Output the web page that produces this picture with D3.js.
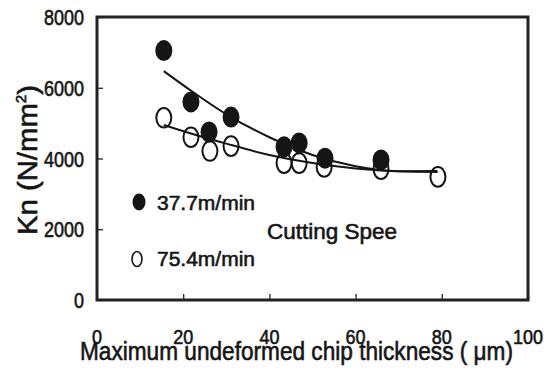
<!DOCTYPE html>
<html><head><meta charset="utf-8">
<script src="https://cdn.jsdelivr.net/npm/d3@7"></script>
<style>body{margin:0;background:#fff}svg{display:block}</style></head><body>
<svg id="c" width="550" height="370"></svg>
<script>
const xTicks=[0,20,40,60,80,100];
const yTicks=[0,2000,4000,6000,8000];
const thickness1=[15.5,21.8,26,31.1,43.4,46.9,52.9,65.9];
const kn1=[7050,5600,4750,5170,4330,4440,4010,3960];
const thickness2=[15.5,21.8,26.2,31.1,43.4,46.9,52.7,65.9,79.1];
const kn2=[5150,4600,4210,4350,3870,3870,3760,3700,3480];
const fitX=[15.5,22,30,40,50,60,70,79];
const fit1=[6470,5900,5250,4600,4100,3780,3640,3650];
const fit2=[4950,4700,4420,4100,3870,3720,3640,3620];
const legendLabels=["37.7m/min","75.4m/min"];
const legendTitle="Cutting Spee";
const xTitle="Maximum undeformed chip thickness ( \u03bcm)";

const svg=d3.select("#c");
const FONT="'Liberation Sans Narrow','Liberation Sans',Arial,sans-serif";
const ink="#151515";
const x=d3.scaleLinear().domain([0,100]).range([97,528]);
const y=d3.scaleLinear().domain([0,8000]).range([300,17]);

function txt(s,px,py,size,len,anchor){
  const t=svg.append("text").attr("x",px).attr("y",py).attr("font-family",FONT)
    .attr("font-size",size).attr("fill",ink).attr("stroke",ink).attr("stroke-width",0.6)
    .attr("text-anchor",anchor||"start").text(s);
  if(len){t.attr("textLength",len).attr("lengthAdjust","spacingAndGlyphs");}
  return t;
}

// axes (inside ticks)
const gx=svg.append("g").attr("transform","translate(0,300)")
  .call(d3.axisTop(x).tickValues(xTicks).tickSize(6).tickFormat(""));
const gy=svg.append("g").attr("transform","translate(97,0)")
  .call(d3.axisRight(y).tickValues(yTicks).tickSize(6).tickFormat(""));
[gx,gy].forEach(g=>{g.select(".domain").remove();g.selectAll("line").attr("stroke",ink).attr("stroke-width",1.2);});

// frame
svg.append("rect").attr("x",x(0)).attr("y",y(8000)).attr("width",x(100)-x(0)).attr("height",y(0)-y(8000))
  .attr("fill","none").attr("stroke","#222").attr("stroke-width",3);

// tick labels
yTicks.forEach(v=>{
  const s=String(v);
  txt(s,84,y(v)+8,22,s.length*10,"end");
});
xTicks.forEach(v=>{
  const s=String(v);
  txt(s,x(v),y(0)+44,20,s.length*10,"middle");
});

// axis titles
txt(xTitle,80,360,26,433,"start");
svg.append("text").attr("transform","translate(37,160) rotate(-90)").attr("text-anchor","middle")
  .attr("font-family",FONT).attr("font-size",27).attr("fill",ink).attr("stroke",ink).attr("stroke-width",0.6)
  .attr("textLength",150).attr("lengthAdjust","spacingAndGlyphs")
  .html("Kn (N/mm<tspan font-size='14' dy='-11'>2</tspan><tspan dy='11'>)</tspan>");

// fitted curves
const line=d3.line().x(d=>x(d[0])).y(d=>y(d[1])).curve(d3.curveMonotoneX);
[fit1,fit2].forEach(f=>{
  svg.append("path").attr("d",line(fitX.map((v,i)=>[v,f[i]])))
    .attr("fill","none").attr("stroke",ink).attr("stroke-width",2);
});

// points
svg.append("g").selectAll("ellipse").data(thickness2.map((v,i)=>[v,kn2[i]])).join("ellipse")
  .attr("cx",d=>x(d[0])).attr("cy",d=>y(d[1])).attr("rx",7.5).attr("ry",9.8)
  .attr("fill","none").attr("stroke",ink).attr("stroke-width",2);
svg.append("g").selectAll("ellipse").data(thickness1.map((v,i)=>[v,kn1[i]])).join("ellipse")
  .attr("cx",d=>x(d[0])).attr("cy",d=>y(d[1])).attr("rx",8.5).attr("ry",10.5)
  .attr("fill",ink);

// legend
svg.append("ellipse").attr("cx",139).attr("cy",202).attr("rx",6.5).attr("ry",8.5).attr("fill",ink);
svg.append("ellipse").attr("cx",137).attr("cy",259).attr("rx",5).attr("ry",7.5).attr("fill","none").attr("stroke",ink).attr("stroke-width",1.6);
txt(legendLabels[0],157,210,21,98,"start");
txt(legendLabels[1],157,266,21,98,"start");
txt(legendTitle,267,239,22,130,"start");
</script>
</body></html>
